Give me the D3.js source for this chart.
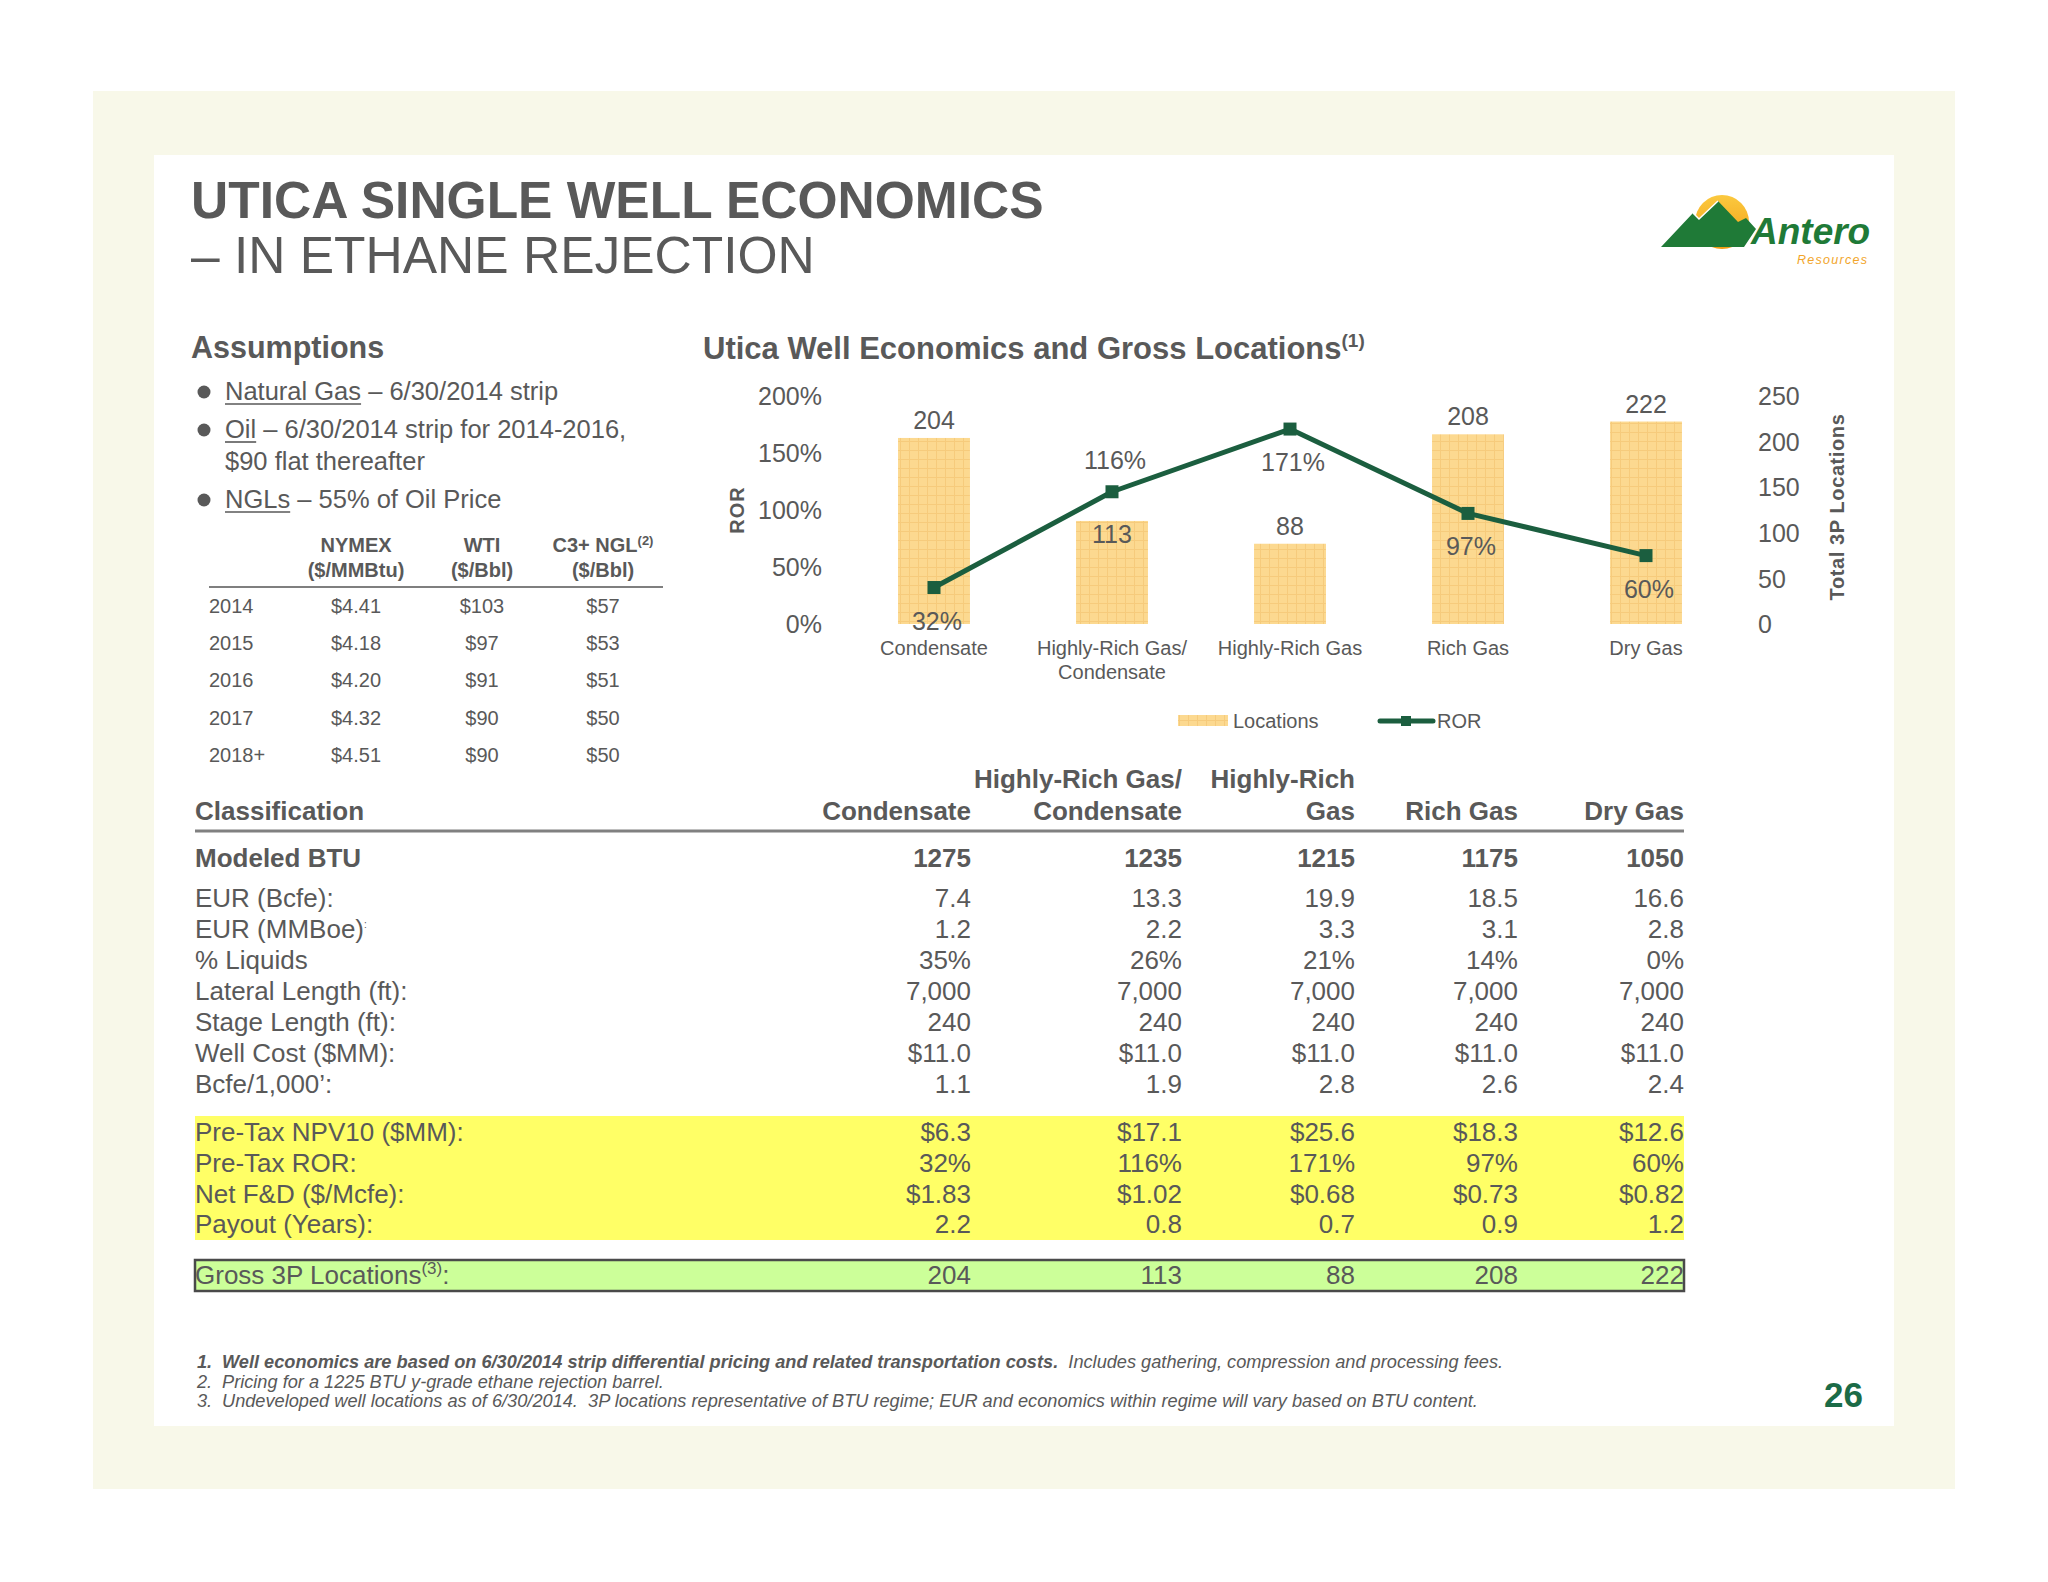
<!DOCTYPE html>
<html><head><meta charset="utf-8">
<script src="https://cdn.jsdelivr.net/npm/d3@7"></script>
<style>
body{margin:0;background:#fff}
svg{display:block}
text{font-family:"Liberation Sans",Arial,Helvetica,sans-serif;fill:#595959}
</style>
</head><body>
<svg id="c" width="2048" height="1582"></svg>
<script>
// ---------------- DATA ----------------
const categories = ["Condensate", "Highly-Rich Gas/\nCondensate", "Highly-Rich Gas", "Rich Gas", "Dry Gas"];
const locations = [204, 113, 88, 208, 222];
const rorValues = [0.32, 1.16, 1.71, 0.97, 0.60];
const rorTicks = [0, 0.5, 1, 1.5, 2];
const locationTicks = [0, 50, 100, 150, 200, 250];
const barLabelPlacement = ["outside", "inside", "outside", "outside", "outside"];
const rorLabelPlacement = ["below", "above", "below", "below", "below"];

const priceYears = ["2014", "2015", "2016", "2017", "2018+"];
const nymexPrices = [4.41, 4.18, 4.20, 4.32, 4.51];
const wtiPrices = [103, 97, 91, 90, 90];
const nglPrices = [57, 53, 51, 50, 50];

const tableHeaders = [["", "Condensate"], ["Highly-Rich Gas/", "Condensate"], ["Highly-Rich", "Gas"], ["", "Rich Gas"], ["", "Dry Gas"]];
const modeledBTU = [1275, 1235, 1215, 1175, 1050];
const eurBcfe = [7.4, 13.3, 19.9, 18.5, 16.6];
const eurMMBoe = [1.2, 2.2, 3.3, 3.1, 2.8];
const pctLiquids = [0.35, 0.26, 0.21, 0.14, 0.00];
const lateralLength = [7000, 7000, 7000, 7000, 7000];
const stageLength = [240, 240, 240, 240, 240];
const wellCost = [11.0, 11.0, 11.0, 11.0, 11.0];
const bcfePer1000 = [1.1, 1.9, 2.8, 2.6, 2.4];
const npv10 = [6.3, 17.1, 25.6, 18.3, 12.6];
const preTaxROR = [0.32, 1.16, 1.71, 0.97, 0.60];
const netFD = [1.83, 1.02, 0.68, 0.73, 0.82];
const payoutYears = [2.2, 0.8, 0.7, 0.9, 1.2];
const gross3P = [204, 113, 88, 208, 222];

// ---------------- DRAW ----------------
const svg = d3.select("#c");
const GRAY = "#595959", GREEN = "#1b5e3f";
const defs = svg.append("defs");
const pat = defs.append("pattern").attr("id", "barpat").attr("patternUnits", "userSpaceOnUse")
  .attr("width", 9).attr("height", 9);
pat.append("rect").attr("width", 9).attr("height", 9).attr("fill", "#fcd990");
pat.append("path").attr("d", "M0 0.5H9M0.5 0V9").attr("stroke", "#f6cb7c").attr("stroke-width", 1);
const sunGrad = defs.append("linearGradient").attr("id", "sun").attr("x1", 0).attr("y1", 0).attr("x2", 0).attr("y2", 1);
sunGrad.append("stop").attr("offset", "0").attr("stop-color", "#fbc93f");
sunGrad.append("stop").attr("offset", "1").attr("stop-color", "#f39c12");

// backgrounds
svg.append("rect").attr("x", 93).attr("y", 91).attr("width", 1862).attr("height", 1398).attr("fill", "#f8f8e9");
svg.append("rect").attr("x", 154).attr("y", 155).attr("width", 1740).attr("height", 1271).attr("fill", "#ffffff");

// title
svg.append("text").attr("x", 191).attr("y", 218).attr("font-size", 51.5).attr("font-weight", "bold")
  .text("UTICA SINGLE WELL ECONOMICS");
svg.append("text").attr("x", 191).attr("y", 273).attr("font-size", 51.5)
  .text("\u2013 IN ETHANE REJECTION");

// logo
const logo = svg.append("g");
logo.append("circle").attr("cx", 1722).attr("cy", 222).attr("r", 27).attr("fill", "url(#sun)");
logo.append("path").attr("d", "M1661,247 L1693,213 L1699,219 L1718,201 L1738,222 L1746,218 L1756,229 L1744,247 Z")
  .attr("fill", "#1f7a37");
logo.append("path").attr("d", "M1693,213 L1699,219 L1718,201").attr("fill", "none").attr("stroke", "#fff").attr("stroke-width", 1.5);
logo.append("text").attr("x", 1751).attr("y", 244).attr("font-size", 37).attr("font-weight", "bold")
  .attr("font-style", "italic").style("fill", "#1f7a37").text("Antero");
logo.append("text").attr("x", 1797).attr("y", 264).attr("font-size", 12.5).attr("font-style", "italic")
  .style("fill", "#f2a52a").attr("textLength", 70).text("Resources");

// Assumptions
svg.append("text").attr("x", 191).attr("y", 358).attr("font-size", 30.5).attr("font-weight", "bold").text("Assumptions");
const bullets = [
  {u: "Natural Gas", rest: " \u2013 6/30/2014 strip", y: 400},
  {u: "Oil", rest: " \u2013 6/30/2014 strip for 2014-2016,", y: 438},
  {u: "NGLs", rest: " \u2013 55% of Oil Price", y: 508}
];
bullets.forEach(b => {
  svg.append("circle").attr("cx", 204).attr("cy", b.y - 8).attr("r", 6.5).attr("fill", GRAY);
  const t = svg.append("text").attr("x", 225).attr("y", b.y).attr("font-size", 25.5);
  const ts = t.append("tspan").text(b.u);
  t.append("tspan").text(b.rest);
  const w = ts.node().getComputedTextLength();
  svg.append("line").attr("x1", 225).attr("x2", 225 + w).attr("y1", b.y + 4).attr("y2", b.y + 4)
    .attr("stroke", GRAY).attr("stroke-width", 1.6);
});
svg.append("text").attr("x", 225).attr("y", 470).attr("font-size", 25.5).text("$90 flat thereafter");

// price table
const priceColX = [356, 482, 603];
const priceHead = [["NYMEX", "($/MMBtu)"], ["WTI", "($/Bbl)"], ["C3+ NGL", "($/Bbl)"]];
priceHead.forEach((h, i) => {
  const t1 = svg.append("text").attr("x", priceColX[i]).attr("y", 552).attr("font-size", 20)
    .attr("font-weight", "bold").attr("text-anchor", "middle");
  t1.append("tspan").text(h[0]);
  if (i === 2) t1.append("tspan").attr("font-size", 13).attr("dy", -7).text("(2)");
  svg.append("text").attr("x", priceColX[i]).attr("y", 577).attr("font-size", 20)
    .attr("font-weight", "bold").attr("text-anchor", "middle").text(h[1]);
});
svg.append("line").attr("x1", 209).attr("x2", 663).attr("y1", 587).attr("y2", 587)
  .attr("stroke", "#7f7f7f").attr("stroke-width", 2);
const f2 = d3.format("$.2f"), f0 = d3.format("$.0f");
priceYears.forEach((yr, i) => {
  const y = 613 + i * 37.2;
  svg.append("text").attr("x", 209).attr("y", y).attr("font-size", 20).text(yr);
  [f2(nymexPrices[i]), f0(wtiPrices[i]), f0(nglPrices[i])].forEach((v, j) => {
    svg.append("text").attr("x", priceColX[j]).attr("y", y).attr("font-size", 20).attr("text-anchor", "middle").text(v);
  });
});

// ---------------- CHART ----------------
const chartTitle = svg.append("text").attr("x", 703).attr("y", 359).attr("font-size", 31).attr("font-weight", "bold");
chartTitle.append("tspan").text("Utica Well Economics and Gross Locations");
chartTitle.append("tspan").attr("font-size", 19).attr("dy", -12).text("(1)");

const x = d3.scaleBand().domain(categories).range([845, 1735]).paddingInner(0.596).paddingOuter(0.298);
const yL = d3.scaleLinear().domain([0, 2]).range([624, 396]);
const yR = d3.scaleLinear().domain([0, 250]).range([624, 396]);

const axL = svg.append("g").attr("transform", "translate(832,0)")
  .call(d3.axisLeft(yL).tickValues(rorTicks).tickFormat(d3.format(".0%")).tickSize(0).tickPadding(10));
const axR = svg.append("g").attr("transform", "translate(1748,0)")
  .call(d3.axisRight(yR).tickValues(locationTicks).tickSize(0).tickPadding(10));
[axL, axR].forEach(a => {
  a.select(".domain").remove();
  a.selectAll("text").attr("font-size", 25).attr("font-family", null).style("fill", GRAY).attr("dy", "0.35em");
});

svg.append("text").attr("transform", "translate(744,510) rotate(-90)").attr("text-anchor", "middle")
  .attr("font-size", 20).attr("font-weight", "bold").attr("letter-spacing", 1).text("ROR");
svg.append("text").attr("transform", "translate(1844,507) rotate(-90)").attr("text-anchor", "middle")
  .attr("font-size", 20).attr("font-weight", "bold").attr("letter-spacing", 0.6).text("Total 3P Locations");

// bars
svg.append("g").selectAll("rect").data(categories).join("rect")
  .attr("x", d => x(d)).attr("width", x.bandwidth())
  .attr("y", (d, i) => yR(locations[i])).attr("height", (d, i) => yR(0) - yR(locations[i]))
  .attr("fill", "url(#barpat)");

// bar labels
svg.append("g").selectAll("text").data(categories).join("text")
  .attr("x", d => x(d) + x.bandwidth() / 2)
  .attr("y", (d, i) => barLabelPlacement[i] === "inside" ? yR(locations[i]) + 22 : yR(locations[i]) - 9)
  .attr("text-anchor", "middle").attr("font-size", 25).text((d, i) => locations[i]);

// ROR line
const cx = d => x(d) + x.bandwidth() / 2;
const line = d3.line().x((v, i) => cx(categories[i])).y(v => yL(v));
svg.append("path").datum(rorValues).attr("d", line).attr("fill", "none")
  .attr("stroke", GREEN).attr("stroke-width", 5).attr("stroke-linejoin", "round");
svg.append("g").selectAll("rect").data(rorValues).join("rect")
  .attr("x", (v, i) => cx(categories[i]) - 6.5).attr("y", v => yL(v) - 6.5)
  .attr("width", 13).attr("height", 13).attr("fill", GREEN);
svg.append("g").selectAll("text").data(rorValues).join("text")
  .attr("x", (v, i) => cx(categories[i]) + 3)
  .attr("y", (v, i) => rorLabelPlacement[i] === "above" ? yL(v) - 23 : yL(v) + 42)
  .attr("text-anchor", "middle").attr("font-size", 25).text(v => d3.format(".0%")(v));

// category labels
categories.forEach(c => {
  const lines = c.split("\n");
  lines.forEach((ln, k) => {
    svg.append("text").attr("x", cx(c)).attr("y", 655 + k * 24).attr("text-anchor", "middle")
      .attr("font-size", 20).text(ln);
  });
});

// legend
svg.append("rect").attr("x", 1178).attr("y", 715).attr("width", 50).attr("height", 11).attr("fill", "url(#barpat)");
svg.append("text").attr("x", 1233).attr("y", 728).attr("font-size", 20).text("Locations");
svg.append("line").attr("x1", 1380).attr("x2", 1433).attr("y1", 721).attr("y2", 721)
  .attr("stroke", GREEN).attr("stroke-width", 5).attr("stroke-linecap", "round");
svg.append("rect").attr("x", 1401).attr("y", 716).attr("width", 10).attr("height", 10).attr("fill", GREEN);
svg.append("text").attr("x", 1437).attr("y", 728).attr("font-size", 20).text("ROR");

// ---------------- MAIN TABLE ----------------
const colRight = [971, 1182, 1355, 1518, 1684];
const LX = 195, TW = 1684 - 195, FS = 26;
svg.append("text").attr("x", LX).attr("y", 820).attr("font-size", FS).attr("font-weight", "bold").text("Classification");
tableHeaders.forEach((h, i) => {
  h.forEach((ln, k) => {
    if (ln) svg.append("text").attr("x", colRight[i]).attr("y", 788 + k * 32).attr("text-anchor", "end")
      .attr("font-size", FS).attr("font-weight", "bold").text(ln);
  });
});
svg.append("line").attr("x1", LX).attr("x2", LX + TW).attr("y1", 831).attr("y2", 831)
  .attr("stroke", "#808080").attr("stroke-width", 3);

svg.append("rect").attr("x", LX).attr("y", 1116).attr("width", TW).attr("height", 124).attr("fill", "#ffff66");
svg.append("rect").attr("x", LX).attr("y", 1260).attr("width", TW).attr("height", 31).attr("fill", "#ccff99")
  .attr("stroke", "#4a4a4a").attr("stroke-width", 2.5);

const fmt1 = d3.format(".1f"), fmtPct = d3.format(".0%"), fmtK = d3.format(",.0f");
const tableRows = [
  {label: "Modeled BTU", vals: modeledBTU, f: d3.format("d"), y: 867, bold: true},
  {label: "EUR (Bcfe):", vals: eurBcfe, f: fmt1, y: 907},
  {label: "EUR (MMBoe)", sup: ":", vals: eurMMBoe, f: fmt1, y: 938},
  {label: "% Liquids", vals: pctLiquids, f: fmtPct, y: 969},
  {label: "Lateral Length (ft):", vals: lateralLength, f: fmtK, y: 1000},
  {label: "Stage Length (ft):", vals: stageLength, f: fmtK, y: 1031},
  {label: "Well Cost ($MM):", vals: wellCost, f: d3.format("$.1f"), y: 1062},
  {label: "Bcfe/1,000\u2019:", vals: bcfePer1000, f: fmt1, y: 1093},
  {label: "Pre-Tax NPV10 ($MM):", vals: npv10, f: d3.format("$.1f"), y: 1141},
  {label: "Pre-Tax ROR:", vals: preTaxROR, f: fmtPct, y: 1172},
  {label: "Net F&D ($/Mcfe):", vals: netFD, f: d3.format("$.2f"), y: 1203},
  {label: "Payout (Years):", vals: payoutYears, f: fmt1, y: 1233},
  {label: "Gross 3P Locations", sup: "(3)", tail: ":", vals: gross3P, f: d3.format("d"), y: 1284}
];
tableRows.forEach(r => {
  const t = svg.append("text").attr("x", LX).attr("y", r.y).attr("font-size", FS)
    .attr("font-weight", r.bold ? "bold" : null);
  t.append("tspan").text(r.label);
  if (r.sup) t.append("tspan").attr("font-size", r.sup === ":" ? 10 : 17).attr("dy", -10).text(r.sup);
  if (r.tail) t.append("tspan").attr("dy", 10).text(r.tail);
  r.vals.forEach((v, i) => {
    svg.append("text").attr("x", colRight[i]).attr("y", r.y).attr("text-anchor", "end")
      .attr("font-size", FS).attr("font-weight", r.bold ? "bold" : null).text(r.f(v));
  });
});

// footnotes
const FN = 18.2;
const fn1 = svg.append("text").attr("x", 197).attr("y", 1368).attr("font-size", FN).attr("font-style", "italic");
fn1.append("tspan").attr("font-weight", "bold").text("1.");
fn1.append("tspan").attr("x", 222).attr("font-weight", "bold")
  .text("Well economics are based on 6/30/2014 strip differential pricing and related transportation costs.");
fn1.append("tspan").text("\u00a0\u00a0Includes gathering, compression and processing fees.");
const fn2 = svg.append("text").attr("x", 197).attr("y", 1388).attr("font-size", FN).attr("font-style", "italic");
fn2.append("tspan").text("2.");
fn2.append("tspan").attr("x", 222).text("Pricing for a 1225 BTU y-grade ethane rejection barrel.");
const fn3 = svg.append("text").attr("x", 197).attr("y", 1407).attr("font-size", FN).attr("font-style", "italic");
fn3.append("tspan").text("3.");
fn3.append("tspan").attr("x", 222).text("Undeveloped well locations as of 6/30/2014.\u00a0\u00a03P locations representative of BTU regime; EUR and economics within regime will vary based on BTU content.");

// page number
svg.append("text").attr("x", 1824).attr("y", 1407).attr("font-size", 35).attr("font-weight", "bold")
  .style("fill", "#1b6b47").text("26");
</script>
</body></html>
